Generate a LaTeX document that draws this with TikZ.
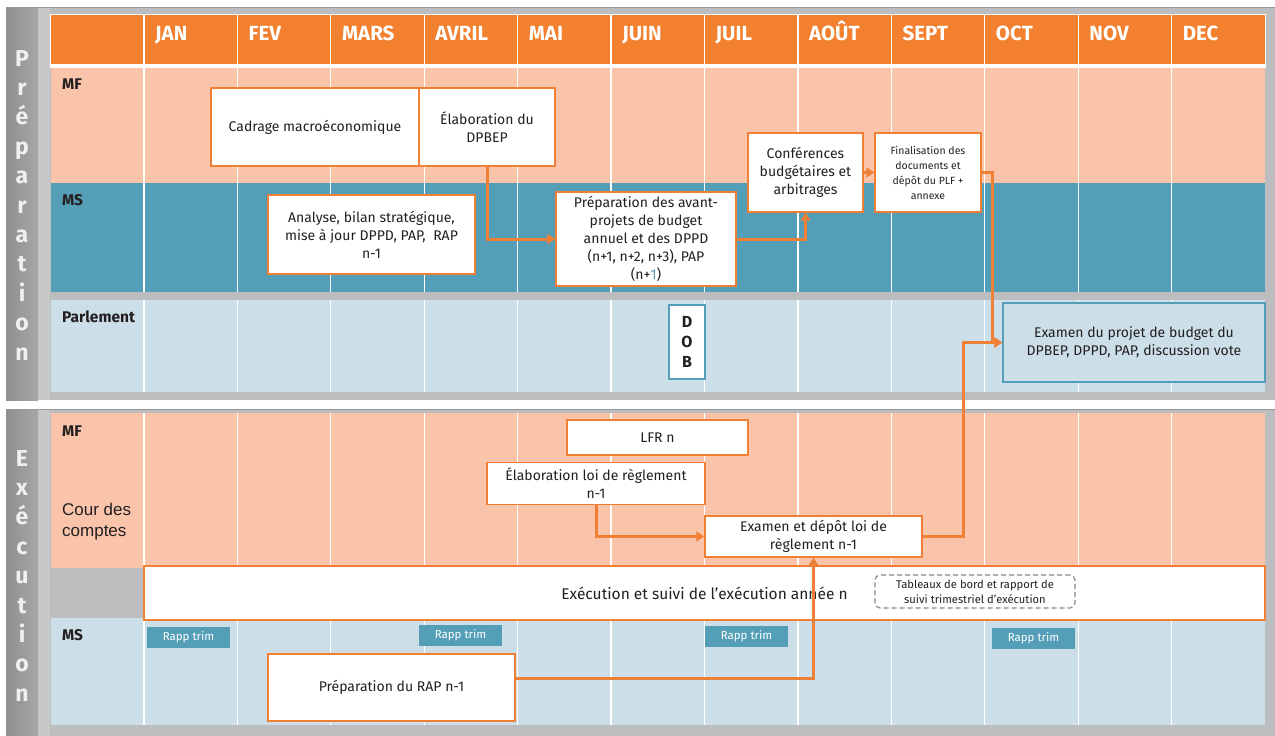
\documentclass[tikz,border=0pt]{standalone}
\usepackage{fontspec}
\setmainfont{Fira Sans}
\newfontfamily\courfont{Liberation Sans}
\usetikzlibrary{arrows.meta}
\definecolor{headorange}{HTML}{F2802E}
\definecolor{salmon}{HTML}{F9C4A9}
\definecolor{tealrow}{HTML}{549FB7}
\definecolor{paleblue}{HTML}{CCDEE7}
\definecolor{boxorange}{HTML}{F08036}
\definecolor{panelgray}{HTML}{BBBDBF}
\definecolor{striplight}{HTML}{C6C8C9}
\definecolor{bardark}{HTML}{8D8F91}
\definecolor{barlight}{HTML}{A5A7A9}
\definecolor{txt}{HTML}{231F20}
\definecolor{dashgray}{HTML}{8A8A8A}

\begin{document}
\begin{tikzpicture}
	[x=1pt,y=-1pt,
	box/.style={draw=boxorange,line width=1.4pt,fill=white,align=center,inner sep=0pt,text=txt,font=\fontsize{14}{18}\selectfont},
	bluebox/.style={box,draw=tealrow,fill=paleblue},
	flow/.style={draw=boxorange,line width=3pt,-{Triangle[length=8pt,width=10pt]}},
	rapp/.style={fill=tealrow,text=white,inner sep=0pt,minimum width=83pt,minimum height=21pt,font=\fontsize{11.5}{13}\selectfont},
	rowlab/.style={anchor=base west,inner sep=0pt,text=txt,font=\bfseries\fontsize{15.5}{17}\selectfont},
	month/.style={anchor=base west,inner sep=0pt,text=white,font=\bfseries\fontsize{20.5}{22}\selectfont},
	vlet/.style={anchor=base,inner sep=0pt,text=white!94!black,font=\bfseries\fontsize{23}{24}\selectfont},
	grid/.style={white,line width=1.3pt}
	]
	\useasboundingbox (0,0) rectangle (1275,736);
	\fill[white] (0,0) rectangle (1275,736);

	\fill[panelgray] (6,7) rectangle (1275,400);
	\fill[striplight] (38,7) rectangle (50,400);
	\shade[left color=bardark,right color=barlight] (6,7) rectangle (38,400);
	\draw[gray!80,line width=1pt] (6,7.5) -- (1275,7.5);
	\fill[panelgray] (6,409) rectangle (1275,736);
	\fill[striplight] (38,409) rectangle (50,736);
	\shade[left color=bardark,right color=barlight] (6,409) rectangle (38,736);
	\draw[gray!80,line width=1pt] (6,409.5) -- (1275,409.5);

	\fill[white] (50,14) rectangle (1266,68);
	\fill[headorange] (51,15) rectangle (1265,64);
	\fill[salmon] (51,68) rectangle (1265,183);
	\fill[tealrow] (51,183) rectangle (1265,292);
	\fill[paleblue] (51,300) rectangle (1265,392);
	\fill[salmon] (51,413) rectangle (1265,568);
	\fill[paleblue] (51,618) rectangle (1265,725);

	\foreach \k in {0,...,11} {
		\draw[grid] (144+93.42*\k,15) -- (144+93.42*\k,292);
		\draw[grid] (144+93.42*\k,300) -- (144+93.42*\k,392);
		\draw[grid] (144+93.42*\k,413) -- (144+93.42*\k,725);
	}

	\foreach \m [count=\i from 0] in {JAN,FEV,MARS,AVRIL,MAI,JUIN,JUIL,AOÛT,SEPT,OCT,NOV,DEC}
		\node[month] (m\i) at (155+93.42*\i,40) {\m};

	\foreach \c [count=\i from 0] in {P,r,é,p,a,r,a,t,i,o,n}
		\node[vlet] (p\i) at (22,66+29.4*\i) {\c};
	\foreach \c [count=\i from 0] in {E,x,é,c,u,t,i,o,n}
		\node[vlet] (e\i) at (22,466+29.4*\i) {\c};

	\node[rowlab] (mfprep) at (62,89) {MF};
	\node[rowlab] (msprep) at (62,205) {MS};
	\node[rowlab] (parl) at (62,322) {Parlement};
	\node[rowlab] (mfexec) at (62,436) {MF};
	\node[anchor=north west,inner sep=0pt,align=left,text=txt,font=\courfont\fontsize{17}{21}\selectfont] (cour) at (62,503) {Cour des\\comptes};
	\node[rowlab] (msexec) at (62,640) {MS};

	\node[box,minimum width=208pt,minimum height=78pt] (cadrage) at (315,127) {Cadrage macroéconomique};
	\node[box,minimum width=136pt,minimum height=78pt] (elabdpbep) at (487,127) {Élaboration du\\DPBEP};
	\node[box,minimum width=207pt,minimum height=79pt] (analyse) at (371.5,234.5) {Analyse, bilan stratégique,\\mise à jour DPPD, PAP, \ RAP\\n-1};
	\node[box,minimum width=180pt,minimum height=94pt] (prepavant) at (646,239) {Préparation des avant-\\projets de budget\\annuel et des DPPD\\(n+1, n+2, n+3), PAP\\(n+\textcolor{tealrow}{1})};
	\node[box,minimum width=115pt,minimum height=79pt] (conf) at (805.5,172.5) {Conférences\\budgétaires et\\arbitrages};
	\node[box,minimum width=106pt,minimum height=79pt,font=\fontsize{10.5}{15}\selectfont] (final) at (928,172.5) {Finalisation des\\documents et\\dépôt du PLF +\\annexe};
	\node[box,draw=tealrow,minimum width=36pt,minimum height=74pt,font=\bfseries\fontsize{16}{20}\selectfont] (dob) at (687,342) {D\\O\\B};
	\node[bluebox,minimum width=262pt,minimum height=79pt,font=\fontsize{14}{18}\selectfont] (examproj) at (1134,342.5) {Examen du projet de budget du\\DPBEP, DPPD, PAP, discussion vote};

	\node[box,minimum width=181pt,minimum height=35pt] (lfr) at (657.5,437.5) {LFR n};
	\node[box,minimum width=218pt,minimum height=42pt] (elabloi) at (596,483.5) {Élaboration loi de règlement\\n-1};
	\node[box,minimum width=217pt,minimum height=41pt] (examloi) at (813.5,536.5) {Examen et dépôt loi de\\règlement n-1};
	\node[box,minimum width=1121pt,minimum height=54pt,font=\fontsize{15.5}{18}\selectfont] (execbar) at (704.5,593) {Exécution et suivi de l’exécution année n};
	\node[draw=dashgray,line width=1.2pt,dash pattern=on 5pt off 3pt,rounded corners=5pt,fill=white,align=center,text=txt,minimum width=200pt,minimum height=33pt,inner sep=0pt,font=\fontsize{11.2}{15}\selectfont] (tableaux) at (975,591.5) {Tableaux de bord et rapport de\\suivi trimestriel d’exécution};

	\node[rapp] (rapp1) at (188.5,637.5) {Rapp trim};
	\node[rapp] (rapp2) at (460.5,635.5) {Rapp trim};
	\node[rapp] (rapp3) at (746.5,636.5) {Rapp trim};
	\node[rapp] (rapp4) at (1033.5,638.5) {Rapp trim};
	\node[box,minimum width=247pt,minimum height=67pt] (preprap) at (391.5,687.5) {Préparation du RAP n-1};

	\draw[flow] (elabdpbep.south) |- (prepavant.west);
	\draw[flow] (prepavant.east) -| (conf.south);
	\draw[flow] (conf.east) -- (final.west);
	\draw[flow] (final.east) -- ++(11,0) |- (examproj.west);
	\draw[flow] (examloi.east) -- ++(41,0) |- (examproj.west);
	\draw[flow] (elabloi.south) |- (examloi.west);
	\draw[flow] ([yshift=9.5pt]preprap.east) -| (examloi.south);
\end{tikzpicture}
\end{document}
